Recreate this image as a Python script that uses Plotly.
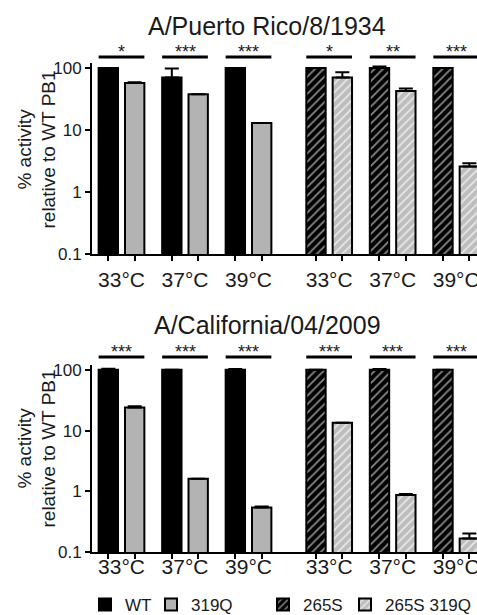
import plotly.graph_objects as go

# ---------------- data ----------------
temps = ["33°C", "37°C", "39°C"]
series_names = ["WT", "319Q", "265S", "265S 319Q"]
panel_titles = ["A/Puerto Rico/8/1934", "A/California/04/2009"]
y_tick_vals = [0.1, 1, 10, 100]
y_tick_text = ["0.1", "1", "10", "100"]

pr8_wt = [100, 70, 100]
pr8_wt_err = [0, 28, 0]
pr8_319q = [57, 37.8, 12.9]
pr8_319q_err = [2, 0, 0]
pr8_265s = [100, 100, 100]
pr8_265s_err = [0, 6, 0]
pr8_265s319q = [70, 42.7, 2.57]
pr8_265s319q_err = [15, 4, 0.35]
pr8_sig = ["*", "***", "***", "*", "**", "***"]

cal_wt = [100, 100, 100]
cal_wt_err = [4, 0, 3]
cal_319q = [24.1, 1.61, 0.54]
cal_319q_err = [1, 0, 0.02]
cal_265s = [100, 100, 100]
cal_265s_err = [0, 3, 0]
cal_265s319q = [13.5, 0.87, 0.167]
cal_265s319q_err = [0, 0.03, 0.035]
cal_sig = ["***", "***", "***", "***", "***", "***"]

panels = [
    dict(vals=[pr8_wt, pr8_319q, pr8_265s, pr8_265s319q],
         errs=[pr8_wt_err, pr8_319q_err, pr8_265s_err, pr8_265s319q_err],
         sig=pr8_sig),
    dict(vals=[cal_wt, cal_319q, cal_265s, cal_265s319q],
         errs=[cal_wt_err, cal_319q_err, cal_265s_err, cal_265s319q_err],
         sig=cal_sig),
]

# ---------------- layout constants ----------------
FONT = "Arial, Liberation Sans, sans-serif"
TXT = "#1a1a1a"
RIGHT_SHIFT = 3.27          # gap between the two halves (in group units)
BAR_W = 0.305
OFFSETS = [-0.36, 0.055, -0.36, 0.055]
W, H = 477, 615
X_DOMAIN = [92 / W, 1.0]
X_RANGE = [-0.4646, 5.598]
Y_RANGE = [-1, 2.08]
Y_DOMAINS = [[1 - 254 / H, 1 - 63 / H], [1 - 552 / H, 1 - 365 / H]]
LABEL_STANDOFF = [6, -5]
SIG_LINE_GAP = [6, 8]
YTITLE_LIFT = [9, 10]
LEGEND_X = [85, 151, 263, 345]

styles = [
    dict(color="#000000", line=dict(color="#000000", width=2)),
    dict(color="#b3b3b3", line=dict(color="#000000", width=2)),
    dict(color="#000000", line=dict(color="#000000", width=2),
         pattern=dict(shape="/", bgcolor="#000000", fgcolor="#8a8a8a",
                      size=6, solidity=0.3, fillmode="replace")),
    dict(color="#bdbdbd", line=dict(color="#000000", width=2),
         pattern=dict(shape="/", bgcolor="#bdbdbd", fgcolor="#e8e8e8",
                      size=6, solidity=0.3, fillmode="replace")),
]
legend_ids = ["legend", "legend2", "legend3", "legend4"]

left_x = [i for i in range(len(temps))]
right_x = [i + RIGHT_SHIFT for i in range(len(temps))]
group_x = left_x + right_x
bar_centers = []
for c in group_x:
    bar_centers += [c + OFFSETS[0] + BAR_W / 2, c + OFFSETS[1] + BAR_W / 2]

fig = go.Figure()
shapes, annotations = [], []

for p, panel in enumerate(panels):
    xa = "x" if p == 0 else "x2"
    ya = "y" if p == 0 else "y2"
    for s in range(4):
        xs = left_x if s < 2 else right_x
        fig.add_trace(go.Bar(
            x=xs, y=panel["vals"][s], name=series_names[s],
            width=BAR_W, offset=OFFSETS[s],
            marker=styles[s],
            error_y=dict(type="data", symmetric=False,
                         array=panel["errs"][s],
                         arrayminus=[0] * len(xs),
                         color="#000000", thickness=2, width=7),
            xaxis=xa, yaxis=ya,
            showlegend=(p == 0), legend=legend_ids[s],
        ))
    # significance bars + stars
    dh = (Y_DOMAINS[p][1] - Y_DOMAINS[p][0]) * H
    gap = SIG_LINE_GAP[p]
    for g, c in enumerate(group_x):
        shapes.append(dict(type="line", xref=xa, yref=f"{ya} domain",
                           x0=c - 0.36, x1=c + 0.36,
                           y0=1 + gap / dh, y1=1 + gap / dh,
                           line=dict(color="#000000", width=3)))
        annotations.append(dict(xref=xa, yref=f"{ya} domain", x=c,
                                y=1 + (gap + 5) / dh, yanchor="middle",
                                text=panel["sig"][g], showarrow=False,
                                font=dict(size=18, color=TXT, family=FONT)))
    # panel title
    annotations.append(dict(xref="paper", yref="paper", x=267 / W,
                            y=1 - (26 if p == 0 else 325) / H,
                            xanchor="center", yanchor="middle",
                            text=panel_titles[p], showarrow=False,
                            font=dict(size=25, color=TXT, family=FONT)))
    # y-axis title
    annotations.append(dict(xref="paper", yref="paper", x=36 / W,
                            y=sum(Y_DOMAINS[p]) / 2 + YTITLE_LIFT[p] / H,
                            xanchor="center", yanchor="middle",
                            textangle=-90,
                            text="% activity<br>relative to WT PB1",
                            showarrow=False,
                            font=dict(size=19, color=TXT, family=FONT)))

axis_common = dict(showline=True, linewidth=2, linecolor="#000000",
                   showgrid=False, zeroline=False)
for p in range(2):
    xkey = "xaxis" if p == 0 else "xaxis2"
    ykey = "yaxis" if p == 0 else "yaxis2"
    fig.update_layout({
        xkey: dict(axis_common, domain=X_DOMAIN, range=X_RANGE,
                   anchor="y" if p == 0 else "y2",
                   tickmode="array", tickvals=group_x, ticktext=temps * 2,
                   ticks="", ticklabelstandoff=LABEL_STANDOFF[p],
                   ticklabeloverflow="allow",
                   tickfont=dict(size=21, color=TXT, family=FONT),
                   minor=dict(tickmode="array", tickvals=bar_centers,
                              ticks="outside", ticklen=5, tickwidth=2,
                              tickcolor="#000000", showgrid=False)),
        ykey: dict(axis_common, type="log", range=Y_RANGE,
                   domain=Y_DOMAINS[p], anchor="x" if p == 0 else "x2",
                   tickmode="array", tickvals=y_tick_vals,
                   ticktext=y_tick_text, ticks="outside", ticklen=5,
                   tickwidth=2, tickcolor="#000000",
                   tickfont=dict(size=17, color=TXT, family=FONT)),
    })

legend_common = dict(orientation="h", yanchor="middle", y=1 - 605 / H,
                     xanchor="left", bgcolor="rgba(0,0,0,0)",
                     font=dict(size=17, color=TXT, family=FONT),
                     itemclick=False, itemdoubleclick=False)
legend_layouts = {lid: dict(legend_common, x=LEGEND_X[i] / W)
                  for i, lid in enumerate(legend_ids)}

fig.update_layout(
    width=W, height=H,
    margin=dict(l=0, r=0, t=0, b=0, pad=0, autoexpand=False),
    paper_bgcolor="white", plot_bgcolor="white",
    barmode="overlay",
    font=dict(family=FONT, color=TXT),
    shapes=shapes, annotations=annotations,
    **legend_layouts,
)

fig.write_html("out.html", config=dict(displayModeBar=False),
               post_script="document.body.style.margin='0';"
                           "document.body.style.overflow='hidden';")
